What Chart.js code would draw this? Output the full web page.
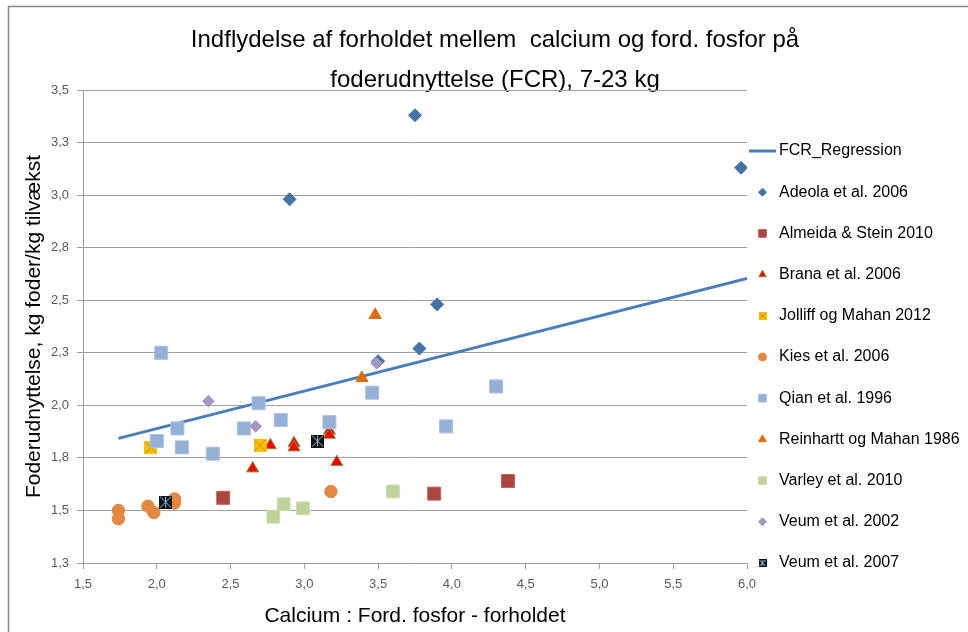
<!DOCTYPE html>
<html>
<head>
<meta charset="utf-8">
<title>Calcium : fosfor og FCR</title>
<script src="https://cdn.jsdelivr.net/npm/chart.js@4.4.1/dist/chart.umd.min.js"></script>
<style>
  html, body { margin: 0; padding: 0; background: #fff; }
  #wrap { position: relative; width: 968px; height: 632px; }
</style>
</head>
<body>
<div id="wrap"><canvas id="fcrChart" width="968" height="632"></canvas></div>
<script>
const titleLines = ['Indflydelse af forholdet mellem  calcium og ford. fosfor på', 'foderudnyttelse (FCR), 7-23 kg'];
const xTitle = 'Calcium : Ford. fosfor - forholdet';
const yTitle = 'Foderudnyttelse, kg foder/kg tilvækst';

const xTickValues = [1.5, 2.0, 2.5, 3.0, 3.5, 4.0, 4.5, 5.0, 5.5, 6.0];
const xTickLabels = ['1,5', '2,0', '2,5', '3,0', '3,5', '4,0', '4,5', '5,0', '5,5', '6,0'];
const yTickValues = [1.25, 1.5, 1.75, 2.0, 2.25, 2.5, 2.75, 3.0, 3.25, 3.5];
const yTickLabels = ['1,3', '1,5', '1,8', '2,0', '2,3', '2,5', '2,8', '3,0', '3,3', '3,5'];

// regression line end points
const regressionX = [1.74, 6.0];
const regressionY = [1.843, 2.604];

const adeolaX = [3.75, 2.90, 5.96, 3.90, 3.78, 3.50];
const adeolaY = [3.38, 2.98, 3.13, 2.48, 2.27, 2.21];
const almeidaX = [2.45, 3.88, 4.38];
const almeidaY = [1.56, 1.58, 1.64];
const branaX = [2.65, 2.77, 2.93, 2.93, 3.17, 3.17, 3.22];
const branaY = [1.70, 1.81, 1.82, 1.80, 1.88, 1.86, 1.73];
const jolliffX = [1.96, 2.70];
const jolliffY = [1.80, 1.81];
const kiesX = [1.74, 1.74, 1.94, 1.98, 2.12, 2.12, 3.18];
const kiesY = [1.50, 1.46, 1.52, 1.49, 1.555, 1.535, 1.59];
const qianX = [2.03, 2.00, 2.14, 2.17, 2.38, 2.59, 2.69, 2.84, 3.17, 3.46, 4.30, 3.96];
const qianY = [2.25, 1.83, 1.89, 1.80, 1.77, 1.89, 2.01, 1.93, 1.92, 2.06, 2.09, 1.90];
const reinhartX = [3.48, 3.39];
const reinhartY = [2.43, 2.13];
const varleyX = [2.79, 2.86, 2.99, 3.60];
const varleyY = [1.47, 1.53, 1.51, 1.59];
const veum2002X = [2.35, 2.67, 3.49];
const veum2002Y = [2.02, 1.90, 2.20];
const veum2007X = [2.06, 3.09];
const veum2007Y = [1.54, 1.83];

const FONT = '"Liberation Sans", Arial, sans-serif';

function pts(xs, ys) {
    return xs.map((x, i) => ({ x: x, y: ys[i] }));
}

// little square markers with a cross drawn on them
function crossBox(size, fill, line, star) {
    const c = document.createElement('canvas');
    c.width = size; c.height = size;
    const g = c.getContext('2d');
    g.fillStyle = fill;
    g.fillRect(0, 0, size, size);
    g.strokeStyle = line;
    g.lineWidth = 1;
    g.beginPath();
    g.moveTo(1, 1); g.lineTo(size - 1, size - 1);
    g.moveTo(size - 1, 1); g.lineTo(1, size - 1);
    if (star) {
        g.moveTo(size / 2, 1); g.lineTo(size / 2, size - 1);
    }
    g.stroke();
    return c;
}

function lineIcon(w, color) {
    const c = document.createElement('canvas');
    c.width = w; c.height = 4;
    const g = c.getContext('2d');
    g.fillStyle = color;
    g.fillRect(0, 0.5, w, 3);
    return c;
}

const jolliffMark = crossBox(13, '#ffc000', '#b8862b', false);
const jolliffSmall = crossBox(8, '#ffc000', '#b8862b', false);
const veumMark = crossBox(13, '#111111', '#8fc3e0', true);
const veumSmall = crossBox(8, '#111111', '#8fc3e0', true);

const datasets = [
    {
        label: 'FCR_Regression',
        data: pts(regressionX, regressionY),
        showLine: true,
        borderColor: '#4a7ebb',
        borderWidth: 3,
        pointRadius: 0,
        order: 100,
        legendStyle: lineIcon(27, '#4a7ebb'), legendRadius: 0
    },
    {
        label: 'Adeola et al. 2006',
        data: pts(adeolaX, adeolaY),
        pointStyle: 'rectRot', pointRadius: 6.5,
        backgroundColor: '#4672a8', borderColor: '#4672a8', borderWidth: 1,
        order: 10, legendStyle: 'rectRot', legendRadius: 4
    },
    {
        label: 'Almeida & Stein 2010',
        data: pts(almeidaX, almeidaY),
        pointStyle: 'rect', pointRadius: 9.2,
        backgroundColor: '#ab4542', borderColor: '#c0625f', borderWidth: 1,
        order: 9, legendStyle: 'rect', legendRadius: 5.5
    },
    {
        label: 'Brana et al. 2006',
        data: pts(branaX, branaY),
        pointStyle: 'triangle', pointRadius: 7,
        backgroundColor: '#ff0000', borderColor: '#7f9a48', borderWidth: 1,
        order: 8, legendStyle: 'triangle', legendRadius: 4.5
    },
    {
        label: 'Jolliff og Mahan 2012',
        data: pts(jolliffX, jolliffY),
        pointStyle: jolliffMark, pointRadius: 7,
        backgroundColor: '#ffc000', borderColor: '#ffc000',
        order: 7, legendStyle: jolliffSmall, legendRadius: 4
    },
    {
        label: 'Kies et al. 2006',
        data: pts(kiesX, kiesY),
        pointStyle: 'circle', pointRadius: 6.2,
        backgroundColor: '#e4883f', borderColor: '#e4883f', borderWidth: 1,
        order: 6, legendStyle: 'circle', legendRadius: 4
    },
    {
        label: 'Qian et al. 1996',
        data: pts(qianX, qianY),
        pointStyle: 'rect', pointRadius: 9.2,
        backgroundColor: '#94b0d6', borderColor: '#a9c0e0', borderWidth: 1,
        order: 5, legendStyle: 'rect', legendRadius: 5.5
    },
    {
        label: 'Reinhartt og Mahan 1986',
        data: pts(reinhartX, reinhartY),
        pointStyle: 'triangle', pointRadius: 7,
        backgroundColor: '#e46c0a', borderColor: '#e46c0a', borderWidth: 1,
        order: 4, legendStyle: 'triangle', legendRadius: 4.5
    },
    {
        label: 'Varley et al. 2010',
        data: pts(varleyX, varleyY),
        pointStyle: 'rect', pointRadius: 9,
        backgroundColor: '#bdd39a', borderColor: '#c9dcab', borderWidth: 1,
        order: 3, legendStyle: 'rect', legendRadius: 5.5
    },
    {
        label: 'Veum et al. 2002',
        data: pts(veum2002X, veum2002Y),
        pointStyle: 'rectRot', pointRadius: 5.8,
        backgroundColor: '#a497c4', borderColor: '#a497c4', borderWidth: 1,
        order: 2, legendStyle: 'rectRot', legendRadius: 4
    },
    {
        label: 'Veum et al. 2007',
        data: pts(veum2007X, veum2007Y),
        pointStyle: veumMark, pointRadius: 7,
        backgroundColor: '#111111', borderColor: '#111111',
        order: 1, legendStyle: veumSmall, legendRadius: 4
    }
];

// frame, title and the legend at the right side
const decorPlugin = {
    id: 'decor',
    beforeDraw(chart) {
        const ctx = chart.ctx;
        ctx.save();
        ctx.fillStyle = '#fff';
        ctx.fillRect(0, 0, chart.width, chart.height);
        ctx.strokeStyle = '#868686';
        ctx.lineWidth = 1.5;
        ctx.beginPath();
        ctx.moveTo(8.5, chart.height);
        ctx.lineTo(8.5, 6.5);
        ctx.lineTo(chart.width, 6.5);
        ctx.stroke();
        ctx.fillStyle = '#000';
        ctx.font = '24px ' + FONT;
        ctx.textAlign = 'center';
        ctx.textBaseline = 'middle';
        titleLines.forEach((t, i) => ctx.fillText(t, 495, 40 + i * 40));
        ctx.restore();
    },
    afterDraw(chart) {
        const ctx = chart.ctx;
        const left = chart.chartArea.right;
        ctx.save();
        chart.data.datasets.forEach((ds, i) => {
            const y = 151 + i * 41.2;
            const mx = left + 15.5;
            ctx.fillStyle = ds.backgroundColor || ds.borderColor;
            ctx.strokeStyle = ds.borderColor;
            Chart.helpers.drawPoint(ctx, {
                pointStyle: ds.legendStyle,
                radius: ds.legendRadius,
                rotation: 0,
                borderWidth: ds.legendStyle instanceof HTMLCanvasElement ? 0 : 1
            }, mx, y);
            ctx.fillStyle = '#000';
            ctx.font = '16px ' + FONT;
            ctx.textAlign = 'left';
            ctx.textBaseline = 'middle';
            ctx.fillText(ds.label, left + 32, y);
        });
        ctx.restore();
    }
};

const gridGray = '#a0a0a0';

new Chart(document.getElementById('fcrChart').getContext('2d'), {
    type: 'scatter',
    data: { datasets: datasets },
    plugins: [decorPlugin],
    options: {
        responsive: false,
        animation: false,
        layout: {
            padding: { left: 8, right: 221, top: 90, bottom: 0 }
        },
        plugins: {
            legend: { display: false },
            title: { display: false },
            tooltip: { enabled: false }
        },
        scales: {
            x: {
                type: 'linear',
                min: 1.5,
                max: 6.0,
                afterFit: function(scale) { scale.height = 69; },
                grid: {
                    drawOnChartArea: false,
                    drawTicks: true,
                    tickLength: 6,
                    color: gridGray
                },
                border: { display: true, color: gridGray },
                ticks: {
                    stepSize: 0.5,
                    padding: 8,
                    color: '#595959',
                    font: { family: FONT, size: 13 },
                    maxRotation: 0,
                    autoSkip: false,
                    callback: function(value) {
                        const i = xTickValues.findIndex(v => Math.abs(v - value) < 1e-6);
                        return i >= 0 ? xTickLabels[i] : '';
                    }
                },
                title: {
                    display: true,
                    text: xTitle,
                    color: '#000',
                    font: { family: FONT, size: 21 },
                    padding: { top: 0, bottom: 3 }
                }
            },
            y: {
                type: 'linear',
                min: 1.25,
                max: 3.5,
                afterFit: function(scale) { scale.width = 75; },
                grid: {
                    drawTicks: true,
                    tickLength: 6,
                    color: gridGray
                },
                border: { display: true, color: gridGray },
                ticks: {
                    stepSize: 0.25,
                    padding: 8,
                    color: '#595959',
                    font: { family: FONT, size: 13 },
                    autoSkip: false,
                    callback: function(value) {
                        const i = yTickValues.findIndex(v => Math.abs(v - value) < 1e-6);
                        return i >= 0 ? yTickLabels[i] : '';
                    }
                },
                title: {
                    display: true,
                    text: yTitle,
                    color: '#000',
                    font: { family: FONT, size: 21 },
                    padding: { top: 14, bottom: 0 }
                }
            }
        }
    }
});
</script>
</body>
</html>
